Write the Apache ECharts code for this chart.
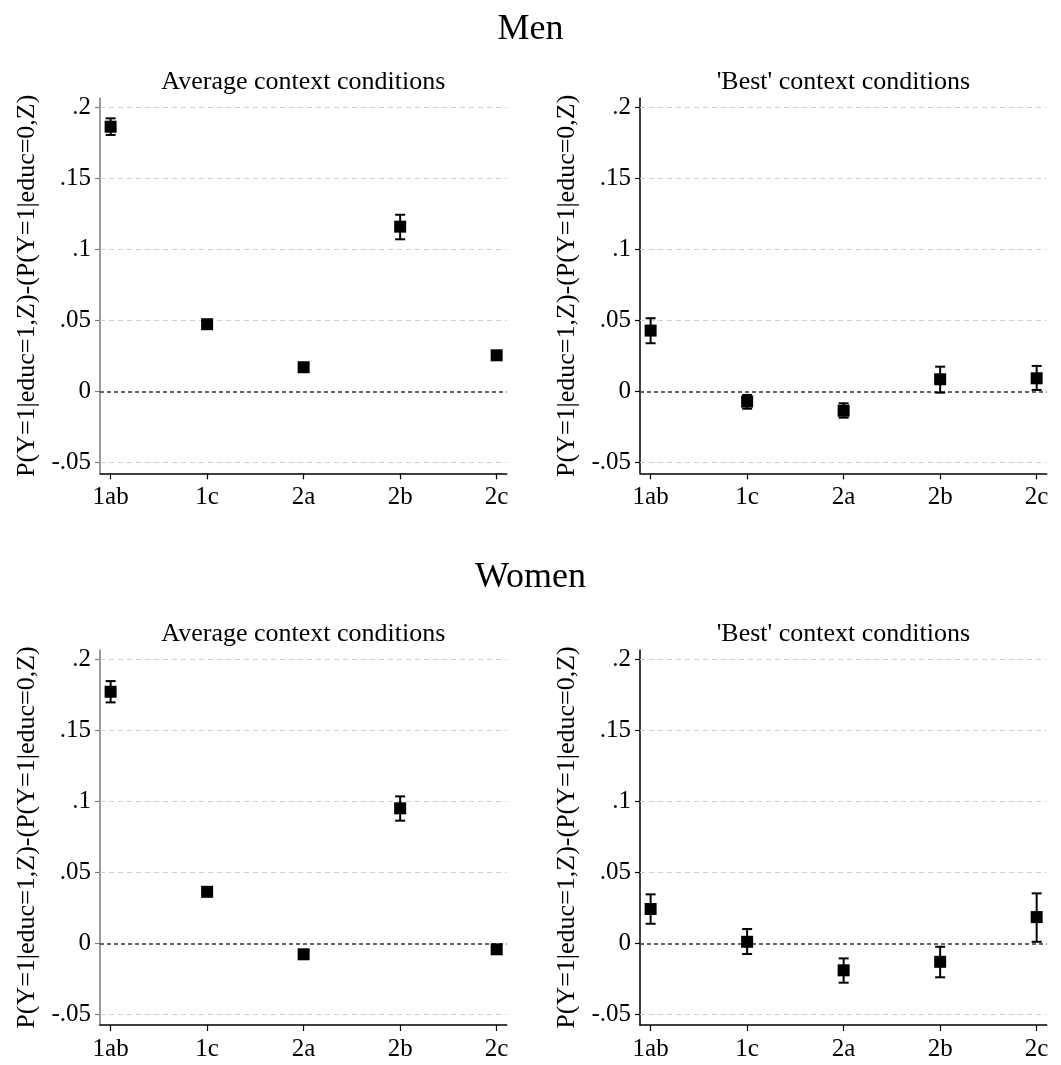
<!DOCTYPE html>
<html>
<head>
<meta charset="utf-8">
<script src="https://cdn.jsdelivr.net/npm/echarts@6/dist/echarts.min.js"></script>
<style>html,body{margin:0;padding:0;background:#fff}#c{width:1061px;height:1065px}</style>
</head>
<body>
<div id="c"></div>
<script>
// ---- data ----
const categories = ['1ab', '1c', '2a', '2b', '2c'];
const yTickValues = [-0.05, 0, 0.05, 0.1, 0.15, 0.2];
const yTickLabels = ['-.05', '0', '.05', '.1', '.15', '.2'];
const groupTitles = ['Men', 'Women'];
const panelTitles = ['Average context conditions', "'Best' context conditions"];
const yTitle = 'P(Y=1|educ=1,Z)-(P(Y=1|educ=0,Z)';

const menAvg     = [0.1866, 0.0475, 0.0172, 0.1162, 0.0256];
const menAvgLo   = [0.1808, 0.0455, 0.0152, 0.1073, 0.0236];
const menAvgHi   = [0.1925, 0.0495, 0.0192, 0.1246, 0.0276];
const menBest    = [0.0430, -0.0070, -0.0134, 0.0087, 0.0094];
const menBestLo  = [0.0341, -0.0120, -0.0183, -0.0007, 0.0012];
const menBestHi  = [0.0517, -0.0023, -0.0082, 0.0176, 0.0181];
const womenAvg   = [0.1772, 0.0363, -0.0077, 0.0951, -0.0042];
const womenAvgLo = [0.1697, 0.0333, -0.0097, 0.0864, -0.0062];
const womenAvgHi = [0.1847, 0.0393, -0.0057, 0.1035, -0.0022];
const womenBest   = [0.0242, 0.0011, -0.0190, -0.0130, 0.0185];
const womenBestLo = [0.0138, -0.0075, -0.0277, -0.0239, 0.0011];
const womenBestHi = [0.0345, 0.0101, -0.0106, -0.0024, 0.0352];

const panels = [
  {est: menAvg, lo: menAvgLo, hi: menAvgHi},
  {est: menBest, lo: menBestLo, hi: menBestHi},
  {est: womenAvg, lo: womenAvgLo, hi: womenAvgHi},
  {est: womenBest, lo: womenBestLo, hi: womenBestHi}
];

// ---- layout ----
const FONT = '"Liberation Serif", "Times New Roman", serif';
const gridLefts = [100, 640];
const gridTops = [98.3, 650];
const gridW = 406.7, gridH = 375;
const X_MIN = 0.89, X_MAX = 5.104;
const Y_MIN = -0.0575, Y_MAX = 0.2066;

const grids = [], xAxes = [], yAxes = [], series = [], graphics = [];
const xPos = categories.map((c, i) => i + 1);

panels.forEach((p, k) => {
  const col = k % 2, row = Math.floor(k / 2);
  grids.push({left: gridLefts[col], top: gridTops[row], width: gridW, height: gridH, containLabel: false});
  xAxes.push({
    type: 'value', gridIndex: k, min: X_MIN, max: X_MAX,
    axisLine: {show: true, onZero: false, lineStyle: {color: '#000', width: 1.5}},
    axisTick: {show: true, length: 6, customValues: xPos, lineStyle: {color: '#000', width: 1.2}},
    axisLabel: {show: true, customValues: xPos, margin: 12, fontFamily: FONT, fontSize: 25, color: '#000',
      formatter: v => categories[Math.round(v) - 1] || ''},
    splitLine: {show: false}
  });
  yAxes.push({
    type: 'value', gridIndex: k, min: Y_MIN, max: Y_MAX,
    name: yTitle, nameLocation: 'middle', nameGap: 60, nameRotate: 90,
    nameTextStyle: {fontFamily: FONT, fontSize: 26, color: '#000'},
    axisLine: {show: true, onZero: false, lineStyle: {color: col === 0 ? '#7a7a7a' : '#000', width: 1.5}},
    axisTick: {show: true, length: 5, customValues: yTickValues, lineStyle: {color: col === 0 ? '#7a7a7a' : '#000', width: 1.2}},
    axisLabel: {show: true, customValues: yTickValues, margin: 9, fontFamily: FONT, fontSize: 25, color: '#000',
      formatter: v => { const i = yTickValues.findIndex(t => Math.abs(t - v) < 1e-9); return i >= 0 ? yTickLabels[i] : ''; }},
    splitLine: {show: false}
  });
  // error bars
  series.push({
    type: 'custom', xAxisIndex: k, yAxisIndex: k, silent: true, z: 3,
    data: categories.map((c, i) => [i + 1, p.lo[i], p.hi[i]]),
    renderItem: function (params, api) {
      const x = api.value(0);
      const top = api.coord([x, api.value(2)]);
      const bot = api.coord([x, api.value(1)]);
      const w = 5;
      const style = {stroke: '#000', lineWidth: 2, fill: null};
      return {type: 'group', children: [
        {type: 'line', shape: {x1: top[0], y1: top[1], x2: bot[0], y2: bot[1]}, style: style},
        {type: 'line', shape: {x1: top[0] - w, y1: top[1], x2: top[0] + w, y2: top[1]}, style: style},
        {type: 'line', shape: {x1: bot[0] - w, y1: bot[1], x2: bot[0] + w, y2: bot[1]}, style: style}
      ]};
    }
  });
  // point estimates + grid lines
  series.push({
    type: 'scatter', xAxisIndex: k, yAxisIndex: k, silent: true, z: 4,
    symbol: 'rect', symbolSize: 12, itemStyle: {color: '#000', opacity: 1},
    data: categories.map((c, i) => [i + 1, p.est[i]]),
    markLine: {
      silent: true, symbol: 'none', animation: false, z: 1,
      label: {show: false},
      data: yTickValues.map(v => ({
        yAxis: v,
        lineStyle: v === 0
          ? {color: '#333', type: [4, 3], width: 1.5}
          : {color: '#cfcfcf', type: [5, 4], width: 1.2}
      }))
    }
  });
  graphics.push({
    type: 'text',
    x: gridLefts[col] + gridW / 2, y: gridTops[row] - 16,
    style: {text: panelTitles[col], font: '26px ' + FONT, fill: '#000', textAlign: 'center', textVerticalAlign: 'middle'}
  });
});

graphics.push({type: 'text', x: 530.5, y: 30, style: {text: groupTitles[0], font: '36px ' + FONT, fill: '#000', textAlign: 'center', textVerticalAlign: 'middle'}});
graphics.push({type: 'text', x: 530.5, y: 578, style: {text: groupTitles[1], font: '36px ' + FONT, fill: '#000', textAlign: 'center', textVerticalAlign: 'middle'}});

const chart = echarts.init(document.getElementById('c'), null, {renderer: 'canvas'});
chart.setOption({
  animation: false,
  backgroundColor: '#fff',
  grid: grids, xAxis: xAxes, yAxis: yAxes, series: series,
  graphic: graphics
});
</script>
</body>
</html>
